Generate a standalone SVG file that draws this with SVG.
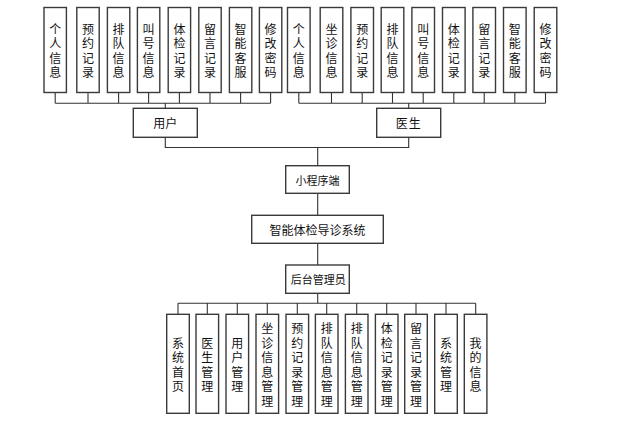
<svg xmlns="http://www.w3.org/2000/svg" width="623" height="423" viewBox="0 0 623 423">
<style>
.box{fill:#fff;stroke:#3a3a3a;stroke-width:1.4}
.t{font-family:"Noto Sans CJK SC","Liberation Sans",sans-serif;font-size:12px;fill:#111;text-anchor:middle;dominant-baseline:central}
.c{fill:none;stroke:#333;stroke-width:1.1}
</style>
<rect width="623" height="423" fill="#fff"/>
<g id="connectors">
<path class="c" d="M55.2 92.5V103.3M88 92.5V103.3M118.6 92.5V103.3M148.6 92.5V103.3M179.4 92.5V103.3M210 92.5V103.3M240.6 92.5V103.3M270.6 92.5V103.3M55.2 103.3H270.6M165.3 103.3V108.3"/>
<path class="c" d="M298.8 92.5V103.3M331.5 92.5V103.3M362.2 92.5V103.3M392.5 92.5V103.3M423.2 92.5V103.3M453.8 92.5V103.3M484.2 92.5V103.3M514.8 92.5V103.3M545.5 92.5V103.3M298.8 103.3H545.5M408.7 103.3V108.3"/>
<path class="c" d="M165.3 137.3V147.5H408.7V137.3M317.7 147.5V165.7M317.7 193.3V215.3M317.7 243.3V265M317.7 293.3V303.3"/>
<path class="c" d="M178 303.3H475.7M178 303.3V314.3M207.3 303.3V314.3M237.3 303.3V314.3M267.3 303.3V314.3M297.3 303.3V314.3M326.7 303.3V314.3M356.7 303.3V314.3M386.7 303.3V314.3M416 303.3V314.3M446 303.3V314.3M475.7 303.3V314.3"/>
</g>
<g id="u1"><rect class="box" x="44" y="7.5" width="22.4" height="85"/><text class="t" x="55.2 55.2 55.2 55.2" y="28.1 42.7 57.3 71.9">个人信息</text></g>
<g id="u2"><rect class="box" x="76.8" y="7.5" width="22.4" height="85"/><text class="t" x="88 88 88 88" y="28.1 42.7 57.3 71.9">预约记录</text></g>
<g id="u3"><rect class="box" x="107.4" y="7.5" width="22.4" height="85"/><text class="t" x="118.6 118.6 118.6 118.6" y="28.1 42.7 57.3 71.9">排队信息</text></g>
<g id="u4"><rect class="box" x="137.4" y="7.5" width="22.4" height="85"/><text class="t" x="148.6 148.6 148.6 148.6" y="28.1 42.7 57.3 71.9">叫号信息</text></g>
<g id="u5"><rect class="box" x="168.2" y="7.5" width="22.4" height="85"/><text class="t" x="179.4 179.4 179.4 179.4" y="28.1 42.7 57.3 71.9">体检记录</text></g>
<g id="u6"><rect class="box" x="198.8" y="7.5" width="22.4" height="85"/><text class="t" x="210 210 210 210" y="28.1 42.7 57.3 71.9">留言记录</text></g>
<g id="u7"><rect class="box" x="229.4" y="7.5" width="22.4" height="85"/><text class="t" x="240.6 240.6 240.6 240.6" y="28.1 42.7 57.3 71.9">智能客服</text></g>
<g id="u8"><rect class="box" x="259.4" y="7.5" width="22.4" height="85"/><text class="t" x="270.6 270.6 270.6 270.6" y="28.1 42.7 57.3 71.9">修改密码</text></g>
<g id="d1"><rect class="box" x="287.5" y="7.5" width="22.6" height="85"/><text class="t" x="298.8 298.8 298.8 298.8" y="28.1 42.7 57.3 71.9">个人信息</text></g>
<g id="d2"><rect class="box" x="320.2" y="7.5" width="22.6" height="85"/><text class="t" x="331.5 331.5 331.5 331.5" y="28.1 42.7 57.3 71.9">坐诊信息</text></g>
<g id="d3"><rect class="box" x="350.9" y="7.5" width="22.6" height="85"/><text class="t" x="362.2 362.2 362.2 362.2" y="28.1 42.7 57.3 71.9">预约记录</text></g>
<g id="d4"><rect class="box" x="381.2" y="7.5" width="22.6" height="85"/><text class="t" x="392.5 392.5 392.5 392.5" y="28.1 42.7 57.3 71.9">排队信息</text></g>
<g id="d5"><rect class="box" x="411.9" y="7.5" width="22.6" height="85"/><text class="t" x="423.2 423.2 423.2 423.2" y="28.1 42.7 57.3 71.9">叫号信息</text></g>
<g id="d6"><rect class="box" x="442.5" y="7.5" width="22.6" height="85"/><text class="t" x="453.8 453.8 453.8 453.8" y="28.1 42.7 57.3 71.9">体检记录</text></g>
<g id="d7"><rect class="box" x="472.9" y="7.5" width="22.6" height="85"/><text class="t" x="484.2 484.2 484.2 484.2" y="28.1 42.7 57.3 71.9">留言记录</text></g>
<g id="d8"><rect class="box" x="503.5" y="7.5" width="22.6" height="85"/><text class="t" x="514.8 514.8 514.8 514.8" y="28.1 42.7 57.3 71.9">智能客服</text></g>
<g id="d9"><rect class="box" x="534.2" y="7.5" width="22.6" height="85"/><text class="t" x="545.5 545.5 545.5 545.5" y="28.1 42.7 57.3 71.9">修改密码</text></g>
<g id="user"><rect class="box" x="133.3" y="108.3" width="64" height="29"/><text class="t" x="165.3" y="122.8">用户</text></g>
<g id="doctor"><rect class="box" x="376.7" y="108.3" width="64" height="29"/><text class="t" x="408.7" y="122.8" letter-spacing="1">医生</text></g>
<g id="miniapp"><rect class="box" x="285.7" y="165.7" width="63.6" height="27.6"/><text class="t" x="317.5" y="179.5" style="font-size:11px">小程序端</text></g>
<g id="system"><rect class="box" x="251.7" y="215.3" width="131.6" height="28"/><text class="t" x="317.5" y="229.3">智能体检导诊系统</text></g>
<g id="admin"><rect class="box" x="285.7" y="265" width="63.6" height="28.3"/><text class="t" x="318.3" y="279.2" style="font-size:11px">后台管理员</text></g>
<g id="b1"><rect class="box" x="166.7" y="314.3" width="22.6" height="99"/><text class="t" x="178 178 178 178" y="342 356.6 371.2 385.8">系统首页</text></g>
<g id="b2"><rect class="box" x="196" y="314.3" width="22.6" height="99"/><text class="t" x="207.3 207.3 207.3 207.3" y="342 356.6 371.2 385.8">医生管理</text></g>
<g id="b3"><rect class="box" x="226" y="314.3" width="22.6" height="99"/><text class="t" x="237.3 237.3 237.3 237.3" y="342 356.6 371.2 385.8">用户管理</text></g>
<g id="b4"><rect class="box" x="256" y="314.3" width="22.6" height="99"/><text class="t" x="267.3 267.3 267.3 267.3 267.3 267.3" y="327.4 342 356.6 371.2 385.8 400.4">坐诊信息管理</text></g>
<g id="b5"><rect class="box" x="286" y="314.3" width="22.6" height="99"/><text class="t" x="297.3 297.3 297.3 297.3 297.3 297.3" y="327.4 342 356.6 371.2 385.8 400.4">预约记录管理</text></g>
<g id="b6"><rect class="box" x="315.4" y="314.3" width="22.6" height="99"/><text class="t" x="326.7 326.7 326.7 326.7 326.7 326.7" y="327.4 342 356.6 371.2 385.8 400.4">排队信息管理</text></g>
<g id="b7"><rect class="box" x="345.4" y="314.3" width="22.6" height="99"/><text class="t" x="356.7 356.7 356.7 356.7 356.7 356.7" y="327.4 342 356.6 371.2 385.8 400.4">排队信息管理</text></g>
<g id="b8"><rect class="box" x="375.4" y="314.3" width="22.6" height="99"/><text class="t" x="386.7 386.7 386.7 386.7 386.7 386.7" y="327.4 342 356.6 371.2 385.8 400.4">体检记录管理</text></g>
<g id="b9"><rect class="box" x="404.7" y="314.3" width="22.6" height="99"/><text class="t" x="416 416 416 416 416 416" y="327.4 342 356.6 371.2 385.8 400.4">留言记录管理</text></g>
<g id="b10"><rect class="box" x="434.7" y="314.3" width="22.6" height="99"/><text class="t" x="446 446 446 446" y="342 356.6 371.2 385.8">系统管理</text></g>
<g id="b11"><rect class="box" x="464.3" y="314.3" width="22.6" height="99"/><text class="t" x="475.6 475.6 475.6 475.6" y="342 356.6 371.2 385.8">我的信息</text></g>
</svg>
